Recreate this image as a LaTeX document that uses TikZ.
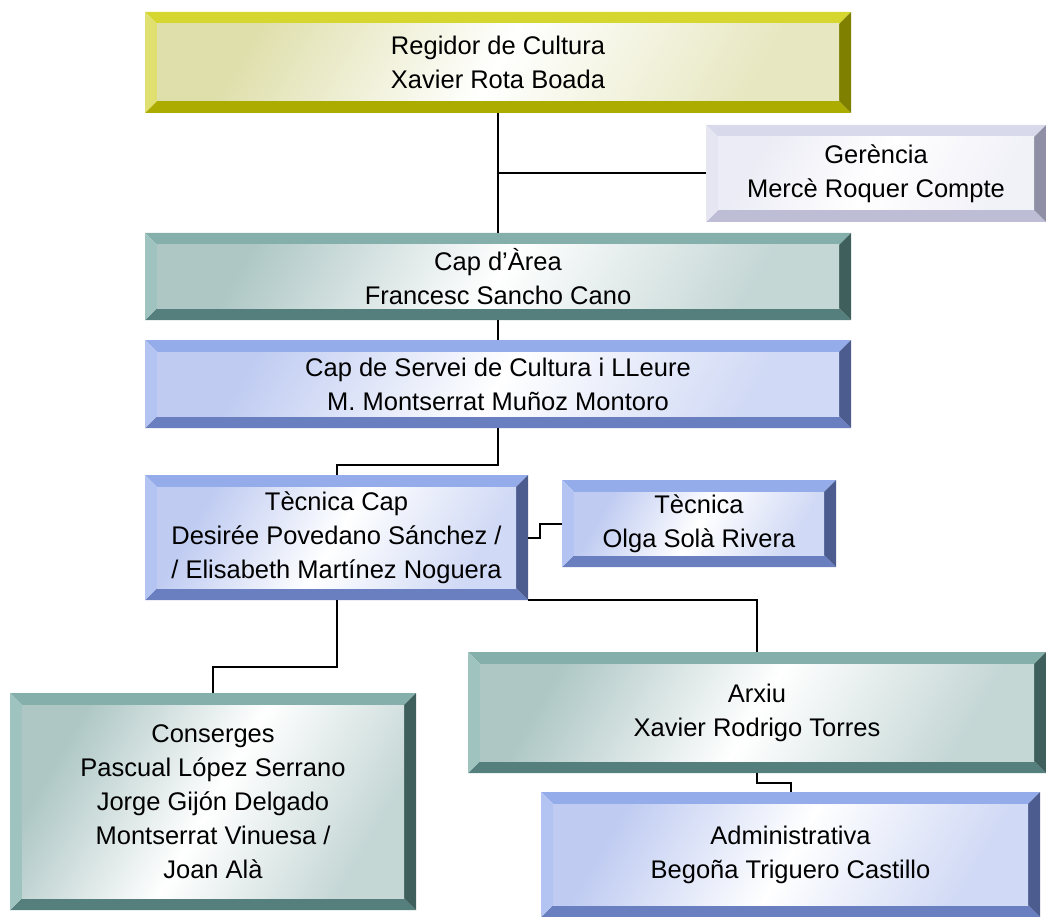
\documentclass[tikz,border=0pt]{standalone}
\usepackage{fontspec}
\setmainfont{Liberation Sans}
\usetikzlibrary{calc}

% bevel colours
\definecolor{yeltop}{HTML}{D6D630}
\definecolor{yelleft}{HTML}{E0E070}
\definecolor{yelbot}{HTML}{ABAB00}
\definecolor{yelright}{HTML}{808000}
\definecolor{yelin}{HTML}{C4C466}
\definecolor{lavtop}{HTML}{D9D9EC}
\definecolor{lavleft}{HTML}{E6E6F3}
\definecolor{lavbot}{HTML}{BDBDD6}
\definecolor{lavright}{HTML}{8F8FA6}
\definecolor{lavin}{HTML}{DCDCEE}
\definecolor{tealtop}{HTML}{84AFAB}
\definecolor{tealleft}{HTML}{9FC4C0}
\definecolor{tealbot}{HTML}{557F7C}
\definecolor{tealright}{HTML}{3F5F5D}
\definecolor{tealin}{HTML}{6C9A96}
\definecolor{blutop}{HTML}{94ACEA}
\definecolor{bluleft}{HTML}{B3C3F2}
\definecolor{blubot}{HTML}{6A7FC0}
\definecolor{bluright}{HTML}{4C5C8E}
\definecolor{bluin}{HTML}{8AA0E6}

\def\bevw{12pt}

\tikzset{
  bevel/.style={inner sep=0pt, align=center, font=\fontsize{25.5}{34}\selectfont,
    path picture={
      \path (path picture bounding box.north west) coordinate (bnw)
            (path picture bounding box.south east) coordinate (bse);
      \coordinate (bne) at (bse |- bnw);
      \coordinate (bsw) at (bnw |- bse);
      \coordinate (inw) at ($(bnw)+(\bevw,-\bevw)$);
      \coordinate (ine) at ($(bne)+(-\bevw,-\bevw)$);
      \coordinate (ise) at ($(bse)+(-\bevw,\bevw)$);
      \coordinate (isw) at ($(bsw)+(\bevw,\bevw)$);
      \fill[#1top] (bnw) -- (bne) -- (ine) -- (inw) -- cycle;
      \fill[#1bot] (bsw) -- (bse) -- (ise) -- (isw) -- cycle;
      \fill[#1left] (bnw) -- (bsw) -- (isw) -- (inw) -- cycle;
      \fill[#1right] (bne) -- (bse) -- (ise) -- (ine) -- cycle;
      \shade[left color=#1in!55, right color=#1in!40, middle color=white, shading angle=60]
        (inw) rectangle (ise);
    }},
  link/.style={line width=2pt}
}

\begin{document}
\begin{tikzpicture}[x=1pt, y=-1pt]
\useasboundingbox (0,0) rectangle (1046,917);

% Regidor
\node[bevel=yel, minimum width=706pt, minimum height=101pt] (reg) at (498,62.5)
  {Regidor de Cultura\\Xavier Rota Boada};

% Gerencia
\node[bevel=lav, minimum width=340pt, minimum height=97pt] (ger) at (876,173.5)
  {Gerència\\Mercè Roquer Compte};

% Area
\node[bevel=teal, minimum width=706pt, minimum height=87pt] (area) at (498,276.5)
  {Cap d’Àrea\\Francesc Sancho Cano};

% Servei
\node[bevel=blu, minimum width=706pt, minimum height=88pt] (servei) at (498,384)
  {Cap de Servei de Cultura i LLeure\\M. Montserrat Muñoz Montoro};

% Tecnica cap
\node[bevel=blu, minimum width=383pt, minimum height=125pt] (tecap) at (336.5,537.5)
  {Tècnica Cap\\Desirée Povedano Sánchez /\\/ Elisabeth Martínez Noguera};

% Tecnica
\node[bevel=blu, minimum width=274pt, minimum height=87pt] (tecnica) at (699,523.5)
  {Tècnica\\Olga Solà Rivera};

% Conserges
\node[bevel=teal, minimum width=406pt, minimum height=217pt] (conserges) at (213,801.5)
  {Conserges\\Pascual López Serrano\\Jorge Gijón Delgado\\Montserrat Vinuesa /\\Joan Alà};

% Arxiu
\node[bevel=teal, minimum width=578pt, minimum height=121pt] (arxiu) at (757,712.5)
  {Arxiu\\Xavier Rodrigo Torres};

% Administrativa
\node[bevel=blu, minimum width=499pt, minimum height=125pt] (admin) at (790.5,854.5)
  {Administrativa\\Begoña Triguero Castillo};

% Lines
\draw[link] (reg.south) -- (area.north);
\draw[link] (reg.south |- ger.west) -- (ger.west);
\draw[link] (area.south) -- (servei.north);
\draw[link] (servei.south) -- ++(0,37) -| (tecap.north);
\draw[link] (tecap.east) -- ++(12,0) |- (tecnica.west);
\draw[link] (tecap.south east) -| (arxiu.north);
\draw[link] (tecap.south) -- ++(0,67) -| (conserges.north);
\draw[link] (arxiu.south) -- ++(0,10) -| (admin.north);
\end{tikzpicture}
\end{document}
